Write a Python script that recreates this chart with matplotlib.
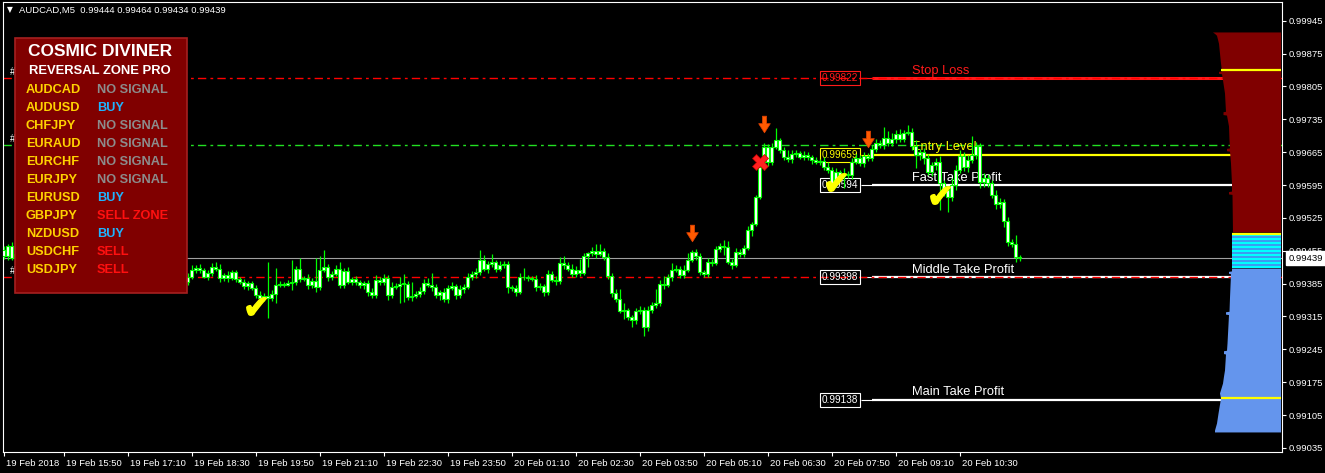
import numpy as np
import matplotlib
matplotlib.use('Agg')
import matplotlib.pyplot as plt
from matplotlib.path import Path
from matplotlib.patches import Rectangle
from matplotlib.transforms import ScaledTranslation

plt.rcParams['font.family'] = ['Liberation Sans', 'DejaVu Sans']

W, H = 1325, 473

# AUDCAD M5, close prices in points (1e-5); bar 0 = 19 Feb 14:30
close_pts = [
    99457, 99444, 99465, 99440, 99448, 99435, 99431, 99442, 99425, 99418, 99429, 99414, 99405, 99412, 99422, 99431,
    99420, 99410, 99397, 99403, 99416, 99427, 99435, 99429, 99440, 99431, 99418, 99410, 99414, 99401, 99393, 99399,
    99408, 99397, 99386, 99393, 99401, 99412, 99418, 99408, 99401, 99410, 99395, 99384, 99390, 99399, 99388, 99399,
    99414, 99418, 99413, 99400, 99407, 99420, 99417, 99397, 99403, 99397, 99409, 99395, 99388, 99380, 99386, 99376,
    99361, 99355, 99358, 99354, 99363, 99382, 99385, 99383, 99386, 99389, 99417, 99395, 99397, 99381, 99390, 99377,
    99414, 99420, 99398, 99406, 99417, 99382, 99412, 99389, 99395, 99388, 99381, 99386, 99367, 99360, 99393, 99388,
    99397, 99360, 99378, 99380, 99384, 99385, 99356, 99359, 99363, 99369, 99386, 99382, 99378, 99361, 99367, 99352,
    99376, 99380, 99361, 99373, 99378, 99398, 99405, 99410, 99436, 99416, 99427, 99431, 99416, 99425, 99427, 99378,
    99376, 99367, 99399, 99398, 99397, 99395, 99378, 99380, 99367, 99405, 99393, 99390, 99428, 99425, 99417, 99405,
    99414, 99408, 99444, 99450, 99454, 99448, 99454, 99442, 99401, 99365, 99352, 99327, 99328, 99314, 99307, 99327,
    99329, 99292, 99329, 99339, 99344, 99384, 99383, 99399, 99414, 99417, 99403, 99414, 99436, 99452, 99443, 99409,
    99406, 99431, 99429, 99458, 99466, 99463, 99432, 99425, 99453, 99448, 99461, 99499, 99512, 99569, 99634, 99676,
    99644, 99676, 99691, 99670, 99655, 99650, 99661, 99663, 99655, 99659, 99655, 99648, 99644, 99646, 99633, 99627,
    99599, 99623, 99614, 99618, 99616, 99644, 99652, 99642, 99657, 99652, 99672, 99684, 99680, 99695, 99684, 99693,
    99704, 99693, 99706, 99708, 99678, 99659, 99665, 99652, 99623, 99638, 99644, 99599, 99584, 99569, 99595, 99627,
    99657, 99633, 99648, 99659, 99678, 99601, 99610, 99599, 99574, 99554, 99559, 99518, 99474, 99469, 99442, 99439,
]
# upper / lower shadow lengths in points
wick_up = [
    6, 8, 5, 9, 4, 7, 5, 10, 6, 4, 8, 5, 6, 9, 4, 7,
    5, 8, 6, 4, 10, 5, 7, 6, 9, 4, 6, 8, 5, 7, 4, 6,
    8, 5, 6, 9, 4, 7, 6, 5, 8, 4, 6, 7, 5, 9, 6, 8,
    11, 6, 8, 5, 6, 9, 11, 9, 5, 8, 6, 4, 5, 6, 4, 5,
    6, 8, 6, 72, 8, 36, 5, 4, 6, 47, 6, 23, 4, 8, 6, 49,
    30, 36, 6, 5, 8, 13, 6, 9, 5, 6, 4, 5, 6, 8, 10, 6,
    8, 6, 10, 6, 15, 21, 5, 30, 6, 8, 9, 11, 26, 6, 5, 8,
    6, 9, 5, 8, 6, 10, 6, 8, 20, 9, 6, 17, 5, 8, 6, 6,
    5, 6, 8, 20, 6, 5, 8, 6, 4, 10, 6, 8, 14, 16, 6, 9,
    8, 23, 6, 2, 8, 15, 15, 6, 8, 6, 8, 21, 15, 6, 4, 6,
    8, 6, 9, 6, 30, 8, 18, 6, 15, 8, 6, 10, 14, 4, 6, 8,
    6, 9, 6, 8, 6, 11, 13, 6, 8, 5, 6, 9, 5, 4, 3, 9,
    6, 8, 26, 4, 6, 15, 8, 6, 5, 8, 6, 4, 6, 5, 8, 10,
    6, 8, 5, 13, 6, 8, 10, 6, 8, 6, 9, 8, 6, 23, 15, 12,
    8, 10, 6, 15, 8, 12, 6, 8, 10, 6, 8, 12, 6, 8, 14, 10,
    12, 8, 10, 40, 8, 6, 10, 8, 6, 10, 8, 6, 8, 6, 19, 4,
]
wick_dn = [
    5, 7, 9, 4, 8, 6, 5, 9, 7, 4, 6, 8, 5, 6, 9, 4,
    7, 5, 8, 6, 4, 9, 6, 5, 7, 8, 4, 6, 9, 5, 7, 6,
    5, 8, 6, 4, 7, 9, 5, 6, 8, 5, 7, 4, 6, 8, 5, 6,
    5, 7, 6, 4, 8, 5, 6, 9, 6, 8, 5, 7, 4, 6, 8, 5,
    7, 6, 8, 43, 6, 19, 5, 6, 4, 15, 8, 6, 5, 7, 6, 10,
    6, 5, 8, 6, 5, 7, 6, 4, 8, 6, 5, 7, 8, 6, 5, 6,
    7, 9, 6, 5, 36, 38, 6, 8, 5, 7, 6, 5, 8, 6, 10, 6,
    8, 5, 9, 6, 7, 5, 6, 8, 6, 5, 8, 6, 7, 5, 6, 13,
    6, 8, 5, 6, 7, 5, 9, 6, 8, 6, 5, 7, 6, 8, 5, 6,
    7, 6, 5, 23, 6, 8, 5, 6, 7, 8, 6, 4, 18, 6, 15, 8,
    6, 19, 8, 6, 5, 7, 10, 6, 8, 5, 6, 7, 5, 6, 8, 6,
    8, 6, 7, 5, 6, 17, 6, 8, 5, 6, 7, 5, 13, 4, 3, 7,
    8, 6, 5, 7, 6, 5, 8, 6, 5, 7, 6, 8, 5, 6, 7, 6,
    15, 8, 6, 26, 6, 8, 5, 6, 8, 6, 5, 7, 6, 8, 5, 6,
    8, 6, 7, 5, 8, 28, 10, 12, 6, 8, 10, 58, 12, 32, 8, 10,
    6, 8, 10, 6, 8, 12, 10, 8, 6, 10, 8, 12, 8, 6, 10, 5,
]

time_labels = ['19 Feb 2018', '19 Feb 15:50', '19 Feb 17:10', '19 Feb 18:30', '19 Feb 19:50',
               '19 Feb 21:10', '19 Feb 22:30', '19 Feb 23:50', '20 Feb 01:10', '20 Feb 02:30',
               '20 Feb 03:50', '20 Feb 05:10', '20 Feb 06:30', '20 Feb 07:50', '20 Feb 09:10',
               '20 Feb 10:30']
price_ticks = [0.99945, 0.99875, 0.99805, 0.99735, 0.99665, 0.99595, 0.99525,
               0.99455, 0.99385, 0.99315, 0.99245, 0.99175, 0.99105, 0.99035]
last_price = 0.99439
header = 'AUDCAD,M5  0.99444 0.99464 0.99434 0.99439'

level_names = ['Stop Loss', 'Entry Level', 'Fast Take Profit', 'Middle Take Profit', 'Main Take Profit']
level_prices = [0.99822, 0.99659, 0.99594, 0.99398, 0.99138]
dash_prices = [0.99822, 0.99680, 0.99398]

buy_bars = [64, 209, 235]
buy_pts = [99337, 99601, 99574]
sell_bars = [173, 191, 217]
sell_pts = [99493, 99725, 99692]
cross_bars = [190]
cross_pts = [99645]

pairs = ['AUDCAD', 'AUDUSD', 'CHFJPY', 'EURAUD', 'EURCHF', 'EURJPY',
         'EURUSD', 'GBPJPY', 'NZDUSD', 'USDCHF', 'USDJPY']
signals = ['NO SIGNAL', 'BUY', 'NO SIGNAL', 'NO SIGNAL', 'NO SIGNAL', 'NO SIGNAL',
           'BUY', 'SELL ZONE', 'BUY', 'SELL', 'SELL']

# volume profile (price in points, width in px) - top part / value area / bottom part
prof_hi_pts = [99921, 99918, 99914, 99897, 99876, 99855, 99838, 99837, 99833, 99832, 99819, 99791,
               99752, 99751, 99745, 99744, 99721, 99691, 99674, 99673, 99668, 99667, 99642, 99599,
               99582, 99581, 99576, 99575, 99495]
prof_hi_vol = [68, 66, 64, 62, 61, 60, 59, 62, 62, 59, 58, 56,
               55, 57.5, 57.5, 54, 52, 51.5, 51, 54, 54, 51, 50, 49,
               49, 52, 52, 48.5, 48]
prof_va_pts = [99493, 99418]
prof_va_vol = [49, 49]
prof_lo_pts = [99418, 99412, 99411, 99407, 99406, 99356, 99326, 99325, 99320, 99319, 99258, 99243,
               99242, 99236, 99235, 99201, 99188, 99173, 99152, 99141, 99109, 99088, 99073, 99069]
prof_lo_vol = [49, 49, 52, 52, 50, 51, 51.5, 55, 55, 52, 53.5, 54,
               57, 57, 55, 56, 57, 58, 61, 60, 62.5, 64, 66, 66]
prof_lines = [0.99840, 0.99491, 0.99141]

GREEN = '#00ff00'

fig = plt.figure(figsize=(W / 100, H / 100), dpi=100, facecolor='black')
ax = fig.add_axes([3 / W, 1 - 452 / H, 1279 / W, 450 / H])
ax.set_facecolor('black')
ax.set_xlim(0.875, 320.625)
ax.set_ylim(0.990263, 0.999848)
for s in ax.spines.values():
    s.set_color('white')
    s.set_linewidth(0.8)

# candles
c = np.array(close_pts) / 1e5
o = np.r_[c[0], c[:-1]]
idx = np.arange(len(c))
hi = np.maximum(o, c) + np.array(wick_up) / 1e5
lo = np.minimum(o, c) - np.array(wick_dn) / 1e5
sl = slice(1, None)
ax.vlines(idx[sl], lo[sl], hi[sl], color=GREEN, lw=0.9, zorder=3)
body = np.maximum(np.abs(c - o), 0.00002)
ax.bar(idx[sl], body[sl], bottom=np.minimum(o, c)[sl], width=0.55, color='white',
       edgecolor=GREEN, linewidth=0.8, zorder=3.1)

# horizontal lines
ax.axhline(last_price, color='#a0a0a0', lw=0.8, zorder=1)
dash_cols = ['#ff0000', '#22e022', '#ff0000']
for p, col in zip(dash_prices, dash_cols):
    ax.axhline(p, color=col, lw=1, dashes=(6, 3, 2, 3), zorder=2.2)
    ax.text(2.6, p + 0.00003, '#', color='white', fontsize=7, va='bottom', ha='left', zorder=2)

lv_cols = ['#ff1a1a', '#ffff00', 'white', 'white', 'white']
lv_lw = [2.2, 1.6, 1.6, 1.6, 1.6]
for name, p, col, lw in zip(level_names, level_prices, lv_cols, lv_lw):
    ax.hlines(p, 215.4, 218.1, color=col, lw=0.8, zorder=2)
    ax.hlines(p, 218.1, 312, color=col, lw=lw, zorder=2)
    ax.text(210.1, p, f'{p:.5f}', ha='center', va='center', fontsize=7.2, color=col, zorder=2.5,
            bbox=dict(boxstyle='square,pad=0.2', fc='none', ec=col, lw=0.8))
    ax.annotate(name, (228, p), xytext=(0, 1.2), textcoords='offset points', fontsize=9.3,
                color=col, ha='left', va='bottom', zorder=2.5)

# signals
ax.plot(np.array(cross_bars), np.array(cross_pts) / 1e5, ls='none', marker='X', ms=11,
        color='#ff2020', mec='#c00000', mew=0.5, zorder=6)
arrow = Path([(-0.25, 1), (0.25, 1), (0.25, 0.1), (0.7, 0.1), (0, -1), (-0.7, 0.1), (-0.25, 0.1), (-0.25, 1)],
             [Path.MOVETO] + [Path.LINETO] * 6 + [Path.CLOSEPOLY])
ax.plot(np.array(sell_bars), np.array(sell_pts) / 1e5, ls='none', marker=arrow, ms=12,
        color='#ff5a00', mec='#e04000', mew=0.5, zorder=6)
ax.plot(np.array(buy_bars), np.array(buy_pts) / 1e5, ls='none', marker='$\u2714$', ms=14,
        color='#ffff00', mec='#ffff00', zorder=6)

# volume profile
right = 320.25
def draw_prof(pts, vol, color):
    y = np.array(pts) / 1e5
    ax.fill_betweenx(y, right - np.array(vol) / 4, right, color=color, lw=0, zorder=7)
draw_prof(prof_hi_pts, prof_hi_vol, '#800000')
draw_prof(prof_lo_pts, prof_lo_vol, '#6495ed')
step = 4.26e-5
edges = np.arange(prof_va_pts[1] / 1e5, prof_va_pts[0] / 1e5, step)
for k, e in enumerate(edges):
    ax.fill_betweenx([e, min(e + step, prof_va_pts[0] / 1e5)], right - prof_va_vol[0] / 4, right,
                     color='#00ffff' if k % 2 == 0 else '#3c9cf0', lw=0, zorder=7)
all_pts = np.array(prof_hi_pts + prof_va_pts + prof_lo_pts) / 1e5
all_vol = np.array(prof_hi_vol + prof_va_vol + prof_lo_vol)
order = np.argsort(all_pts)
for p in prof_lines:
    wv = np.interp(p, all_pts[order], all_vol[order])
    ax.hlines(p, right - wv / 4, right, color='#ffff00', lw=1.6, zorder=8)

# axes ticks
ax.yaxis.tick_right()
ax.set_yticks(price_ticks)
ax.set_yticklabels([f'{p:.5f}' for p in price_ticks])
ax.tick_params(axis='y', colors='white', length=3, width=0.8, pad=1.5, labelsize=6.8)
ax.set_xticks([1] + list(range(16, 241, 16)))
ax.set_xticklabels(time_labels)
ax.tick_params(axis='x', colors='white', length=3, width=0.8, pad=2, labelsize=6.8)
off = ScaledTranslation(2 / 100, 0, fig.dpi_scale_trans)
for lab in ax.get_xticklabels():
    lab.set_ha('left')
    lab.set_transform(lab.get_transform() + off)

ax.annotate(f'{last_price:.5f}', xy=(1, last_price), xycoords=('axes fraction', 'data'),
            xytext=(4.5, 0), textcoords='offset points', va='center', ha='left', fontsize=6.8,
            color='black', annotation_clip=False, zorder=9,
            bbox=dict(boxstyle='square,pad=0.25', fc='white', ec='white'))

# header
fig.text(7 / W, 1 - 10 / H, '\u25bc', family='DejaVu Sans', fontsize=5.5, color='white', va='center')
fig.text(19 / W, 1 - 10 / H, header, fontsize=6.8, color='white', va='center')

# info panel
fig.add_artist(Rectangle((15 / W, 1 - 293 / H), 172 / W, 255 / H, transform=fig.transFigure,
                         fc='#800000', ec='#a52020', lw=1.2, zorder=10))
fig.text(100 / W, 1 - 52 / H, 'COSMIC DIVINER', fontsize=12.5, weight='bold', color='white',
         ha='center', va='center', zorder=11)
fig.text(100 / W, 1 - 71 / H, 'REVERSAL ZONE PRO', fontsize=9.4, weight='bold', color='white',
         ha='center', va='center', zorder=11)
sig_cols = {'NO SIGNAL': '#8c8c8c', 'BUY': '#1eb4ff', 'SELL': '#ff1010', 'SELL ZONE': '#ff1010'}
for k, (pr, sg) in enumerate(zip(pairs, signals)):
    yy = 1 - (90 + 18 * k) / H
    fig.text(26 / W, yy, pr, fontsize=9.2, weight='bold', color='#ffd200', va='center', zorder=11)
    fig.text(97 / W, yy, sg, fontsize=9.2, weight='bold', color=sig_cols[sg], va='center', zorder=11)

plt.savefig('out.png', dpi=100, facecolor='black')
